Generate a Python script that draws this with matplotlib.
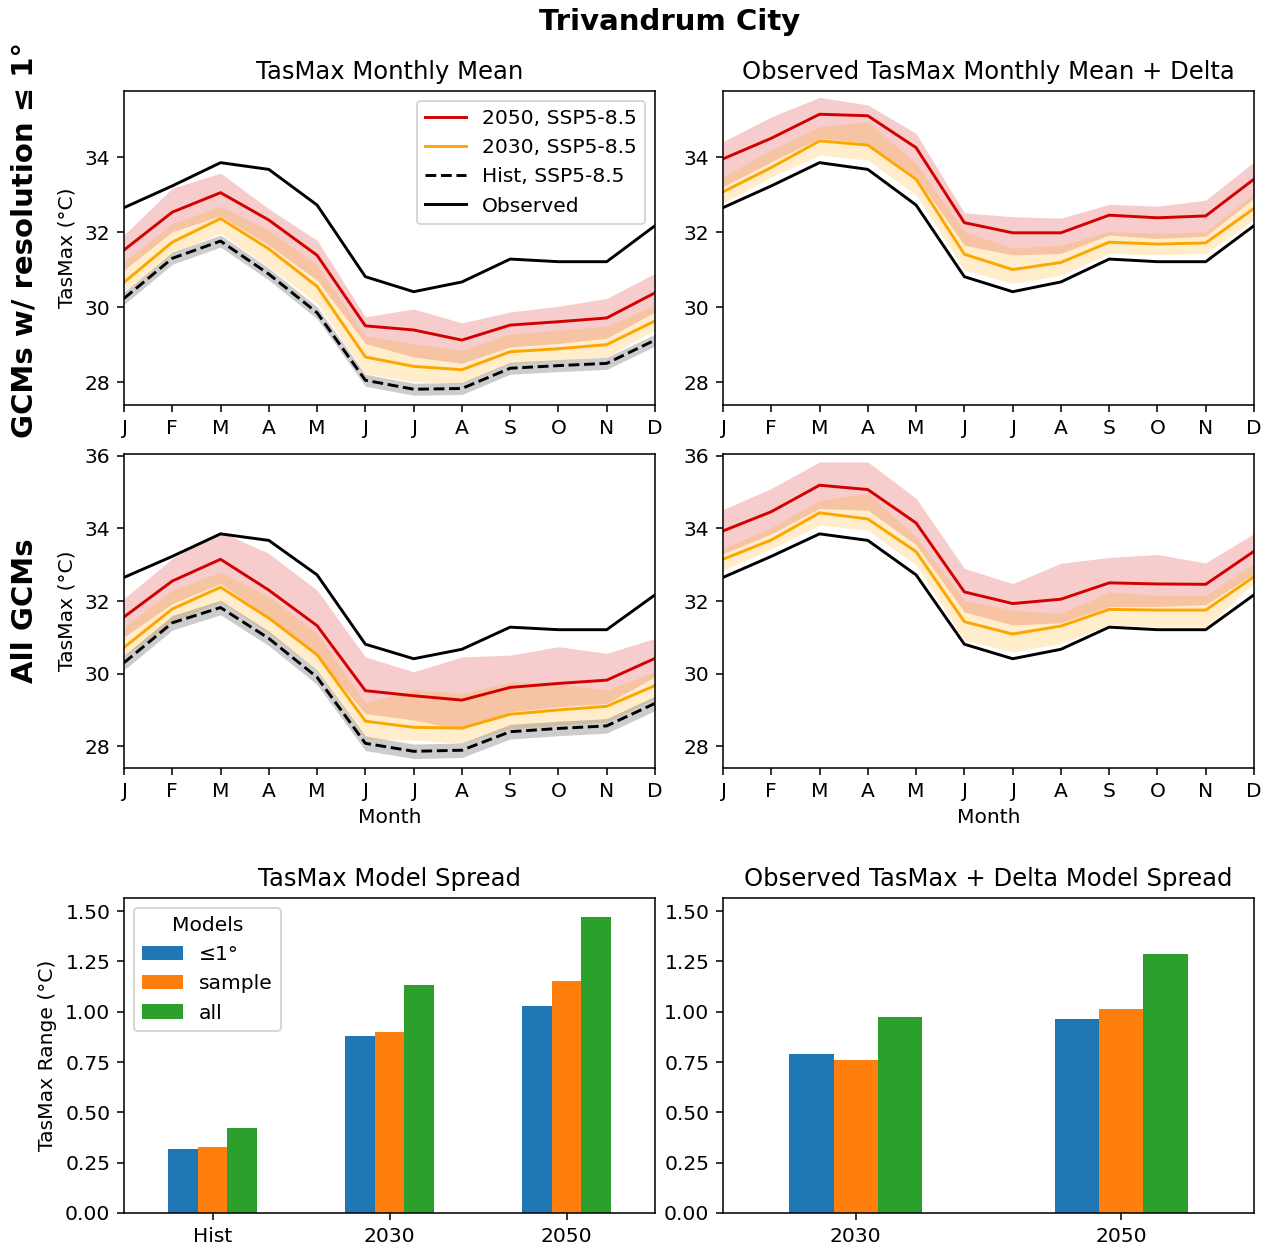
import numpy as np
import matplotlib
matplotlib.use('Agg')
import matplotlib.pyplot as plt

plt.rcParams['font.size'] = 10.4

months = ['J', 'F', 'M', 'A', 'M', 'J', 'J', 'A', 'S', 'O', 'N', 'D']

observed = [32.65, 33.23, 33.85, 33.67, 32.72, 30.81, 30.41, 30.67, 31.28, 31.21, 31.21, 32.17]

# GCMs with resolution <= 1 deg, raw model output
res_2050 = [31.52, 32.53, 33.05, 32.32, 31.38, 29.50, 29.39, 29.12, 29.52, 29.61, 29.71, 30.38]
res_2050_hi = [31.92, 33.17, 33.57, 32.62, 31.78, 29.74, 29.95, 29.58, 29.87, 30.02, 30.23, 30.90]
res_2050_lo = [30.99, 32.01, 32.43, 31.65, 30.72, 29.03, 28.67, 28.50, 28.94, 29.03, 29.17, 29.87]
res_2030 = [30.66, 31.73, 32.36, 31.55, 30.55, 28.67, 28.42, 28.33, 28.81, 28.89, 29.00, 29.63]
res_2030_hi = [31.21, 32.23, 32.69, 32.05, 31.12, 29.23, 29.03, 28.85, 29.28, 29.39, 29.49, 30.05]
res_2030_lo = [30.37, 31.43, 31.97, 31.07, 30.10, 28.23, 28.01, 27.97, 28.50, 28.59, 28.67, 29.39]
res_hist = [30.23, 31.30, 31.76, 30.88, 29.85, 28.05, 27.81, 27.83, 28.37, 28.44, 28.50, 29.12]
res_hist_hi = [30.39, 31.46, 31.92, 31.04, 30.01, 28.21, 27.97, 27.99, 28.53, 28.60, 28.66, 29.28]
res_hist_lo = [30.07, 31.14, 31.60, 30.72, 29.69, 27.89, 27.65, 27.67, 28.21, 28.28, 28.34, 28.96]

# GCMs with resolution <= 1 deg, observed + delta
res_d2050 = [33.95, 34.50, 35.14, 35.10, 34.25, 32.25, 31.98, 31.98, 32.45, 32.38, 32.43, 33.41]
res_d2050_hi = [34.41, 35.07, 35.59, 35.39, 34.63, 32.51, 32.41, 32.37, 32.74, 32.69, 32.85, 33.87]
res_d2050_lo = [33.21, 33.87, 34.50, 34.37, 33.47, 31.65, 31.39, 31.43, 31.92, 31.83, 31.89, 32.90]
res_d2030 = [33.07, 33.72, 34.43, 34.32, 33.41, 31.41, 31.00, 31.19, 31.73, 31.68, 31.71, 32.63]
res_d2030_hi = [33.47, 34.19, 34.81, 34.94, 33.83, 32.01, 31.57, 31.65, 32.01, 31.97, 32.01, 33.03]
res_d2030_lo = [32.77, 33.47, 34.05, 33.92, 32.99, 30.99, 30.63, 30.85, 31.43, 31.39, 31.43, 32.32]

# all GCMs, raw model output
all_2050 = [31.56, 32.55, 33.15, 32.30, 31.32, 29.53, 29.39, 29.27, 29.62, 29.73, 29.82, 30.42]
all_2050_hi = [32.07, 33.17, 33.91, 33.31, 32.30, 30.46, 30.05, 30.46, 30.51, 30.74, 30.56, 30.97]
all_2050_lo = [31.01, 31.93, 32.48, 31.56, 30.46, 28.90, 28.72, 28.46, 28.95, 29.09, 29.18, 29.91]
all_2030 = [30.72, 31.78, 32.38, 31.53, 30.52, 28.69, 28.52, 28.50, 28.88, 29.00, 29.10, 29.67]
all_2030_hi = [31.29, 32.30, 32.80, 32.12, 31.11, 29.20, 29.56, 29.45, 29.77, 29.73, 29.55, 30.05]
all_2030_lo = [30.46, 31.43, 31.98, 31.11, 30.10, 28.21, 28.17, 28.08, 28.49, 28.58, 28.67, 29.32]
all_hist = [30.30, 31.40, 31.82, 30.97, 29.90, 28.08, 27.86, 27.89, 28.40, 28.49, 28.56, 29.18]
all_hist_hi = [30.50, 31.60, 32.02, 31.17, 30.10, 28.28, 28.06, 28.09, 28.60, 28.69, 28.76, 29.38]
all_hist_lo = [30.10, 31.20, 31.62, 30.77, 29.70, 27.88, 27.66, 27.69, 28.20, 28.29, 28.36, 28.98]

# all GCMs, observed + delta
all_d2050 = [33.93, 34.46, 35.19, 35.07, 34.15, 32.25, 31.93, 32.05, 32.50, 32.47, 32.46, 33.37]
all_d2050_hi = [34.52, 35.10, 35.83, 35.83, 34.83, 32.90, 32.48, 33.04, 33.20, 33.28, 33.05, 33.86]
all_d2050_lo = [33.30, 33.85, 34.55, 34.50, 33.55, 31.70, 31.34, 31.40, 31.85, 31.85, 31.90, 32.75]
all_d2030 = [33.15, 33.68, 34.43, 34.26, 33.36, 31.43, 31.09, 31.31, 31.77, 31.75, 31.75, 32.67]
all_d2030_hi = [33.45, 34.03, 34.78, 34.96, 33.77, 32.02, 31.75, 31.66, 32.25, 32.16, 32.16, 33.04]
all_d2030_lo = [32.85, 33.43, 34.09, 33.95, 32.99, 30.92, 30.60, 30.83, 31.34, 31.29, 31.29, 32.48]

# model spread bars
spread_periods = ['Hist', '2030', '2050']
spread_res = [0.32, 0.88, 1.03]
spread_sample = [0.33, 0.90, 1.155]
spread_all = [0.42, 1.135, 1.47]

delta_periods = ['2030', '2050']
delta_res = [0.79, 0.965]
delta_sample = [0.76, 1.015]
delta_all = [0.975, 1.285]

RED = '#d40000'
ORANGE = 'orange'

fig = plt.figure(figsize=(1271 / 140, 1249 / 140), dpi=140)
W, H = 1271, 1249


def px_axes(x0, y0, x1, y1):
    return fig.add_axes([x0 / W, 1 - y1 / H, (x1 - x0) / W, (y1 - y0) / H])


def monthly(ax, f50, f50lo, f50hi, f30, f30lo, f30hi, hist=None, ylim=None):
    x = np.arange(12)
    ax.fill_between(x, f50lo, f50hi, color=RED, alpha=0.2, linewidth=0)
    ax.fill_between(x, f30lo, f30hi, color=ORANGE, alpha=0.2, linewidth=0)
    if hist is not None:
        ax.fill_between(x, hist[1], hist[2], color='k', alpha=0.2, linewidth=0)
    ax.plot(x, f50, color=RED, label='2050, SSP5-8.5')
    ax.plot(x, f30, color=ORANGE, label='2030, SSP5-8.5')
    if hist is not None:
        ax.plot(x, hist[0], 'k--', label='Hist, SSP5-8.5')
    ax.plot(x, observed, color='k', label='Observed')
    ax.set_xlim(0, 11)
    ax.set_xticks(x)
    ax.set_xticklabels(months)
    ax.set_ylim(ylim)


ax1 = px_axes(124, 91, 655, 405)
ax2 = px_axes(723, 91, 1254, 405)
ax3 = px_axes(124, 454, 655, 768)
ax4 = px_axes(723, 454, 1254, 768)
ax5 = px_axes(124, 898, 655, 1213)
ax6 = px_axes(723, 898, 1254, 1213)

lim1 = (27.39, 35.76)
lim2 = (27.40, 36.05)
monthly(ax1, res_2050, res_2050_lo, res_2050_hi, res_2030, res_2030_lo, res_2030_hi,
        hist=(res_hist, res_hist_lo, res_hist_hi), ylim=lim1)
monthly(ax2, res_d2050, res_d2050_lo, res_d2050_hi, res_d2030, res_d2030_lo, res_d2030_hi, ylim=lim1)
monthly(ax3, all_2050, all_2050_lo, all_2050_hi, all_2030, all_2030_lo, all_2030_hi,
        hist=(all_hist, all_hist_lo, all_hist_hi), ylim=lim2)
monthly(ax4, all_d2050, all_d2050_lo, all_d2050_hi, all_d2030, all_d2030_lo, all_d2030_hi, ylim=lim2)

ax1.set_title('TasMax Monthly Mean')
ax2.set_title('Observed TasMax Monthly Mean + Delta')
ax1.set_ylabel('TasMax (°C)')
ax3.set_ylabel('TasMax (°C)')
ax3.set_xlabel('Month')
ax4.set_xlabel('Month')
ax1.legend(loc='upper right')

# bar charts
w = 0.5 / 3
xb = np.arange(len(spread_periods))
ax5.bar(xb - w, spread_res, w, color='tab:blue', label='≤1°')
ax5.bar(xb, spread_sample, w, color='tab:orange', label='sample')
ax5.bar(xb + w, spread_all, w, color='tab:green', label='all')
ax5.set_xticks(xb)
ax5.set_xticklabels(spread_periods)
ax5.set_xlim(-0.5, len(spread_periods) - 0.5)
ax5.set_ylabel('TasMax Range (°C)')
ax5.set_title('TasMax Model Spread')
ax5.legend(title='Models', loc='upper left')

xd = np.arange(len(delta_periods))
ax6.bar(xd - w, delta_res, w, color='tab:blue')
ax6.bar(xd, delta_sample, w, color='tab:orange')
ax6.bar(xd + w, delta_all, w, color='tab:green')
ax6.set_xticks(xd)
ax6.set_xticklabels(delta_periods)
ax6.set_xlim(-0.5, len(delta_periods) - 0.5)
ax6.set_title('Observed TasMax + Delta Model Spread')
for ax in (ax5, ax6):
    ax.set_ylim(0, 1.565)
    ax.set_yticks([0, 0.25, 0.5, 0.75, 1.0, 1.25, 1.5])
    ax.set_yticklabels(['0.00', '0.25', '0.50', '0.75', '1.00', '1.25', '1.50'])

fig.text(670 / W, 1 - 22 / H, 'Trivandrum City', ha='center', va='center',
         fontsize='x-large', fontweight='bold')
fig.text(25 / W, 1 - 240 / H, 'GCMs w/ resolution ≤ 1°', rotation=90,
         ha='center', va='center', fontsize='x-large', fontweight='bold')
fig.text(25 / W, 1 - 611 / H, 'All GCMs', rotation=90,
         ha='center', va='center', fontsize='x-large', fontweight='bold')

fig.savefig('out.png', dpi=140)
